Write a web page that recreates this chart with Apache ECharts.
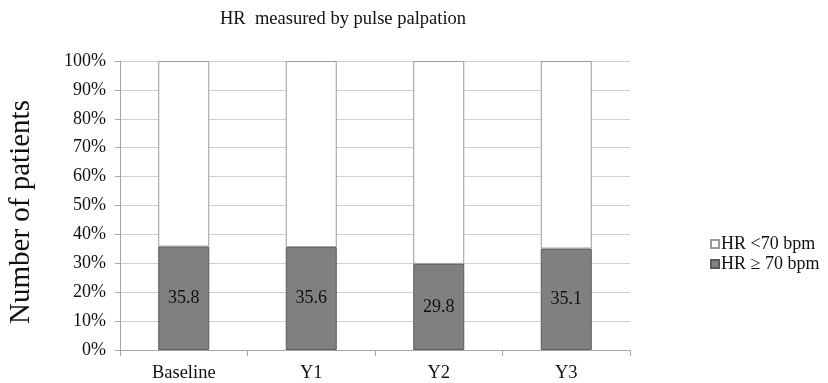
<!DOCTYPE html>
<html>
<head>
<meta charset="utf-8">
<script src="https://cdn.jsdelivr.net/npm/echarts@6/dist/echarts.min.js"></script>
<style>
  html, body { margin: 0; padding: 0; background: #fff; }
  #chart { width: 828px; height: 383px; }
</style>
</head>
<body>
<div id="chart"></div>
<script>
// Share of patients by heart-rate group at each visit (%)
const categories = ['Baseline', 'Y1', 'Y2', 'Y3'];
const hrAtLeast70 = [35.8, 35.6, 29.8, 35.1];
const hrBelow70 = [64.2, 64.4, 70.2, 64.9];
const yTicks = [0, 10, 20, 30, 40, 50, 60, 70, 80, 90, 100];

const serif = '"Liberation Serif", "Times New Roman", serif';

const chart = echarts.init(document.getElementById('chart'), null, { renderer: 'canvas' });

chart.setOption({
  backgroundColor: '#ffffff',
  animation: false,
  title: {
    text: 'HR  measured by pulse palpation',
    left: 338,
    top: 5,
    textAlign: 'center',
    textStyle: { fontFamily: serif, fontSize: 18.5, fontWeight: 'normal', color: '#111' }
  },
  legend: {
    orient: 'vertical',
    left: 705,
    top: 229,
    itemWidth: 8,
    itemHeight: 8,
    itemGap: 0,
    icon: 'rect',
    textStyle: { fontFamily: serif, fontSize: 18, color: '#111', padding: [0, 0, 0, -3], lineHeight: 20 },
    data: ['HR <70 bpm', 'HR \u2265 70 bpm']
  },
  graphic: [{
    type: 'text',
    x: 21,
    y: 212,
    rotation: Math.PI / 2,
    style: {
      text: 'Number of patients',
      font: '29px "Liberation Serif", "Times New Roman", serif',
      fill: '#111',
      align: 'center',
      verticalAlign: 'middle'
    }
  }],
  grid: { left: 120, right: 198, top: 61, bottom: 33, containLabel: false },
  xAxis: {
    type: 'category',
    data: categories,
    axisLine: { lineStyle: { color: '#a6a6a6', width: 1 } },
    axisTick: { show: true, length: 6, lineStyle: { color: '#a6a6a6' } },
    axisLabel: { fontFamily: serif, fontSize: 18.5, color: '#111', margin: 14 }
  },
  yAxis: {
    type: 'value',
    min: yTicks[0],
    max: yTicks[yTicks.length - 1],
    interval: 10,
    axisLine: { show: true, lineStyle: { color: '#a6a6a6', width: 1 } },
    axisTick: { show: true, length: 5, lineStyle: { color: '#a6a6a6' } },
    axisLabel: { fontFamily: serif, fontSize: 18, color: '#111', margin: 14, formatter: '{value}%' },
    splitLine: { show: true, lineStyle: { color: '#cfcfcf', width: 1 } }
  },
  series: [
    {
      name: 'HR \u2265 70 bpm',
      type: 'bar',
      stack: 'hr',
      barWidth: '40%',
      data: hrAtLeast70,
      itemStyle: { color: '#808080', borderColor: '#5a5a5a', borderWidth: 1 },
      label: {
        show: true,
        position: 'inside',
        fontFamily: serif,
        fontSize: 18,
        color: '#111',
        formatter: p => p.value.toFixed(1)
      }
    },
    {
      name: 'HR <70 bpm',
      type: 'bar',
      stack: 'hr',
      barWidth: '40%',
      data: hrBelow70,
      itemStyle: { color: '#ffffff', borderColor: '#9a9a9a', borderWidth: 1 }
    }
  ]
});
</script>
</body>
</html>
